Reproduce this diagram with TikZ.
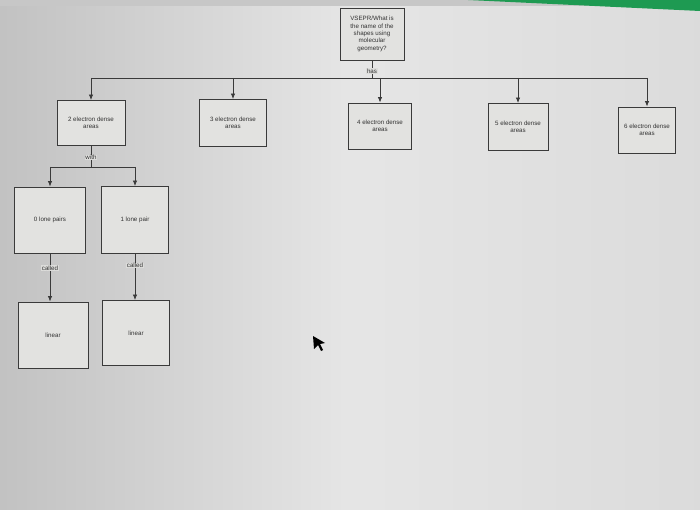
\documentclass[tikz,border=0pt]{standalone}
\usepackage{fontspec}
\setmainfont{Liberation Sans}
\usetikzlibrary{arrows.meta}
\definecolor{bg}{HTML}{DCDCDA}
\definecolor{boxbg}{HTML}{E2E2E0}
\definecolor{ln}{HTML}{3A3A3A}
\definecolor{grn}{HTML}{1E9A52}
\begin{document}
\begin{tikzpicture}[x=1pt,y=-1pt,
  cbox/.style={draw=ln,line width=0.9pt,fill=boxbg,align=center,inner sep=1pt,
    font=\fontsize{6.2}{7.4}\selectfont,text=black!80},
  lab/.style={fill=bg,inner sep=0.6pt,font=\fontsize{6.2}{7.4}\selectfont,text=black!80},
  conn/.style={draw=ln,line width=0.8pt},
  arr/.style={conn,-{Latex[length=5.5pt,width=4.5pt]}}]
\useasboundingbox (0,0) rectangle (700,510);
\shade[left color=black!24,right color=black!14,middle color=black!10] (0,0) rectangle (700,510);
\fill[black!22] (0,0) rectangle (700,6);
\fill[grn] (468,0) -- (700,0) -- (700,11) -- cycle;
% nodes
\node[cbox,minimum width=64pt,minimum height=52pt] (top) at (372,34)
  {VSEPR/What is\\the name of the\\shapes using\\molecular\\geometry?};
\node[cbox,minimum width=68pt,minimum height=45pt] (e2) at (91,123) {2 electron dense\\areas};
\node[cbox,minimum width=67pt,minimum height=47pt] (e3) at (233,123) {3 electron dense\\areas};
\node[cbox,minimum width=63pt,minimum height=46pt] (e4) at (380,126) {4 electron dense\\areas};
\node[cbox,minimum width=60pt,minimum height=47pt] (e5) at (518,127) {5 electron dense\\areas};
\node[cbox,minimum width=57pt,minimum height=46pt] (e6) at (647,130) {6 electron dense\\areas};
\node[cbox,minimum width=71pt,minimum height=66pt] (l0) at (50,220) {0 lone pairs};
\node[cbox,minimum width=67pt,minimum height=67pt] (l1) at (135,220) {1 lone pair};
\node[cbox,minimum width=70pt,minimum height=66pt] (g0) at (53,335) {linear};
\node[cbox,minimum width=67pt,minimum height=65pt] (g1) at (136,333) {linear};
% bus from top
\coordinate (b0) at (372,78);
\coordinate (bl) at (91,78);
\coordinate (br) at (647,78);
\draw[conn] (top.south) -- (b0) node[lab,pos=0.6] {has};
\draw[conn] (bl) -- (br);
\foreach \n in {e2,e3,e4,e5,e6} {\draw[arr] (\n.north |- b0) -- (\n.north);}
% with
\coordinate (w0) at (91,167);
\coordinate (wl) at (50,167);
\coordinate (wr) at (135,167);
\draw[conn] (e2.south) -- (w0) node[lab,pos=0.55] {with};
\draw[conn] (wl) -- (wr);
\draw[arr] (wl) -- (l0.north);
\draw[arr] (wr) -- (l1.north);
% called
\draw[arr] (l0.south) -- (l0.south |- g0.north) node[lab,pos=0.3] {called};
\draw[arr] (l1.south) -- (l1.south |- g1.north) node[lab,pos=0.25] {called};
% mouse cursor
\fill[black] (313,336) -- (325,343) -- (320,344) -- (323,350) -- (321,351) -- (318,345) -- (314,349) -- cycle;
\end{tikzpicture}
\end{document}
